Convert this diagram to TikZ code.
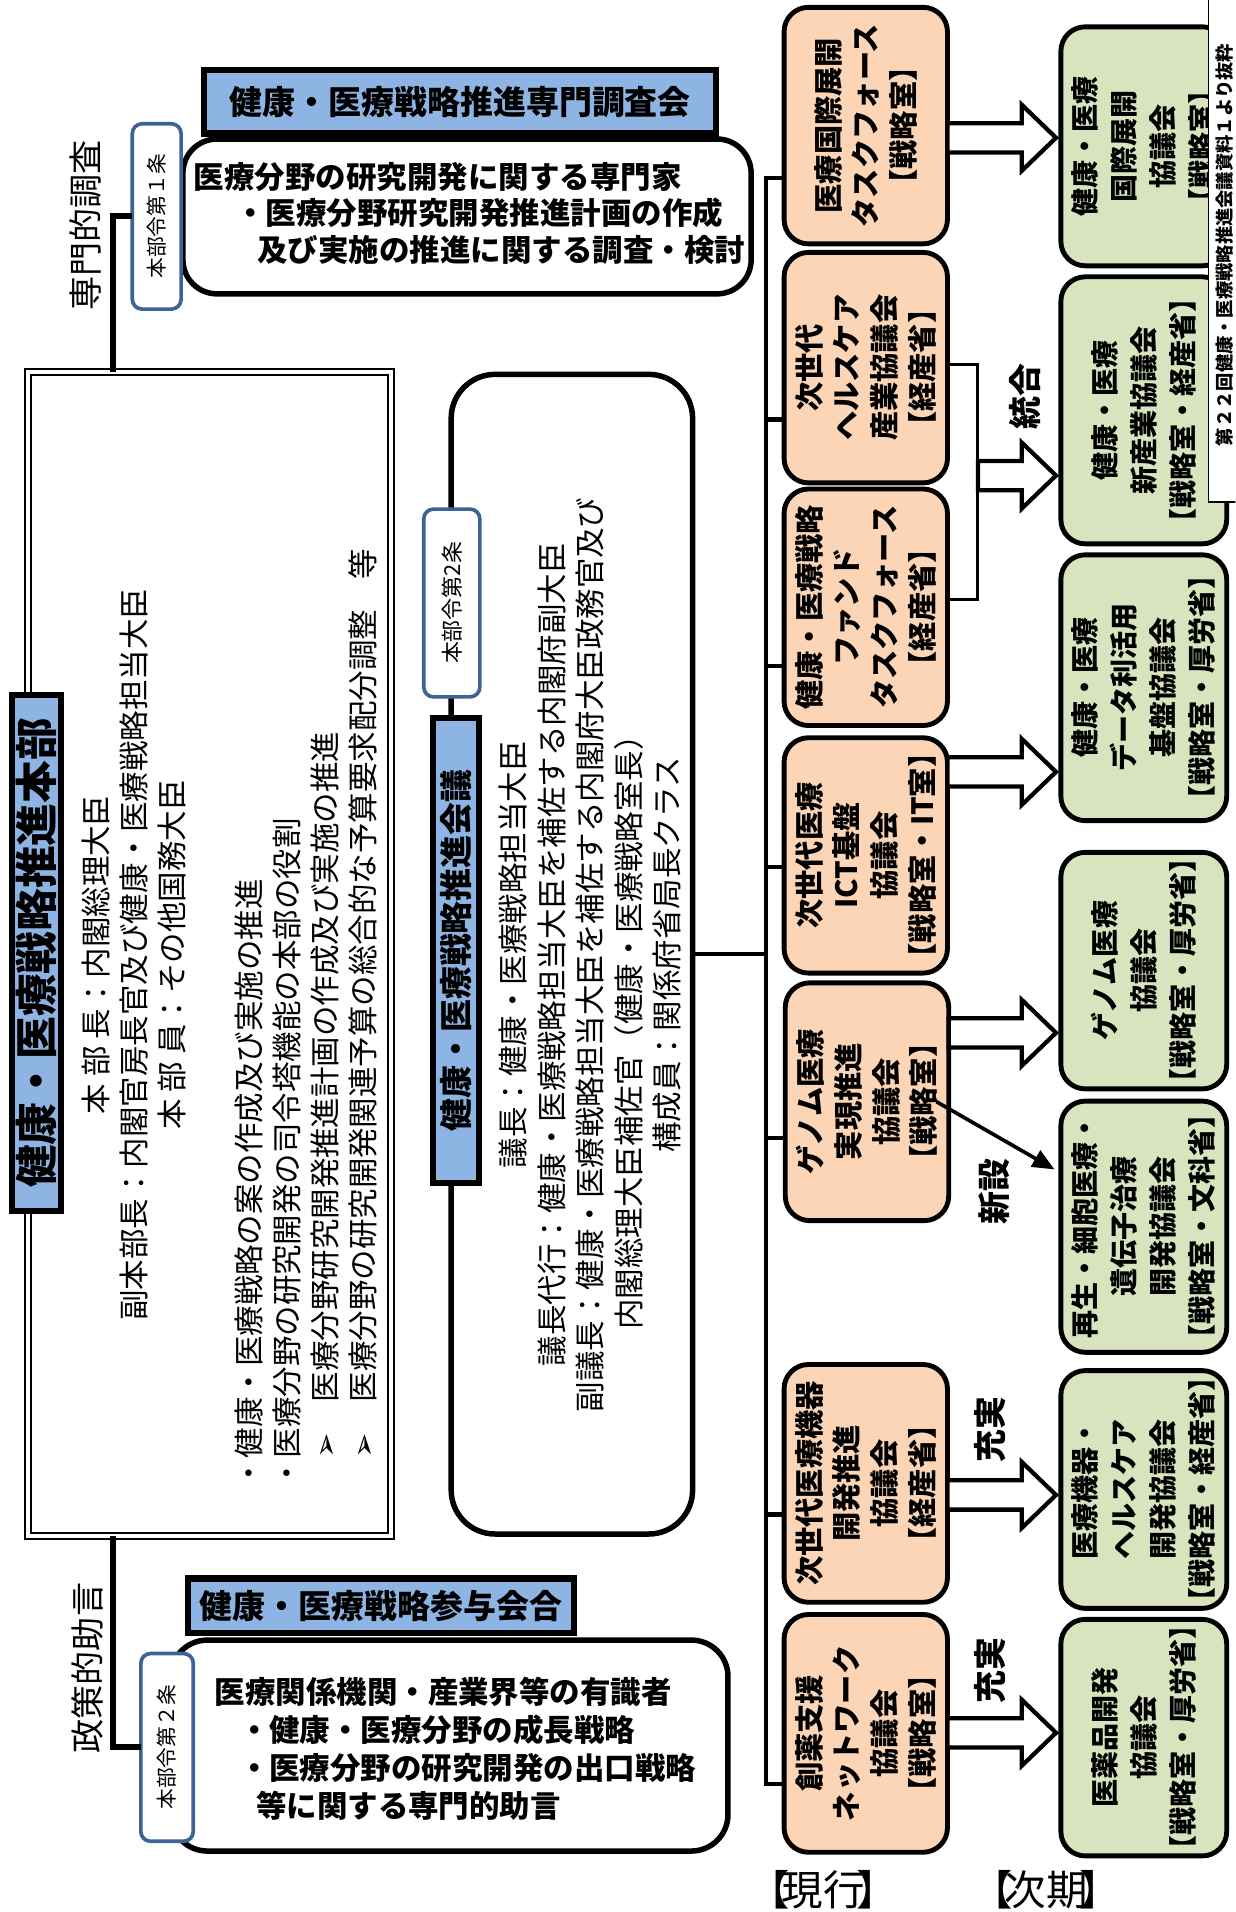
\documentclass[tikz,border=0pt]{standalone}
\usepackage{fontspec}
\setmainfont{Noto Sans CJK JP}
\newfontfamily\symfont{DejaVu Sans}
\usetikzlibrary{calc,arrows.meta}
\definecolor{titleblue}{RGB}{142,180,227}
\definecolor{oldorange}{RGB}{251,213,181}
\definecolor{newgreen}{RGB}{215,228,189}
\definecolor{tagblue}{RGB}{62,100,148}
\newcommand{\fsz}[2]{\fontsize{#1}{#2}\selectfont}
\newcommand{\wide}[1]{\makebox[0pt]{#1}}
\newcommand{\blockarr}[2]{%
  \draw[blockarrow] let \p1=#1, \p2=#2 in
    (\x1,\y1+12pt) -- (\x2-32pt,\y1+12pt) -- (\x2-32pt,\y1+27pt) -- (\x2-4pt,\y1)
    -- (\x2-32pt,\y1-27pt) -- (\x2-32pt,\y1-12pt) -- (\x1,\y1-12pt) -- cycle;}

\begin{document}
\begin{tikzpicture}[x=1pt, y=-1pt,
    every node/.style={inner sep=0pt, outer sep=0pt},
    vert/.style={rotate=90},
    titlebox/.style={draw, line width=5pt, fill=titleblue, font=\bfseries\fsz{27}{27}},
    panel/.style={draw, line width=4.5pt, fill=white},
    tag/.style={vert, draw=tagblue, line width=3pt, fill=white, rounded corners=8pt, font=\fsz{17}{17}},
    oldbox/.style={vert, draw, line width=4pt, fill=oldorange, rounded corners=20pt, align=center, minimum height=134, font=\bfseries\fsz{24}{31}},
    newbox/.style={vert, draw, line width=4pt, fill=newgreen, rounded corners=20pt, align=center, minimum height=136, font=\bfseries\fsz{23}{32}},
    txt/.style={font=\fsz{25}{31}},
    btxt/.style={font=\bfseries\fsz{25}{30}},
    word/.style={vert, font=\bfseries\fsz{27}{27}},
    phase/.style={font=\fsz{34}{34}},
    spine/.style={line width=3.5pt},
    conn/.style={line width=5pt},
    bracket/.style={line width=2.5pt},
    blockarrow/.style={draw, line width=3.5pt, fill=white, line join=miter},
    newarrow/.style={line width=3pt, -{Triangle[length=18pt,width=15pt]}, shorten >=6pt}]
  \path[use as bounding box, clip] (0,0) rectangle (1013,1568);

  % Nodes
  % headquarters
  \node[draw, double, line width=1.5pt, double distance=3.5pt, minimum width=297.5, minimum height=954.5] (HQ) at (172,782.5) {};
  \node[titlebox, vert, minimum width=423, minimum height=40, font=\bfseries\fsz{35}{35}] (HQT) at (30,781.5) {健康・医療戦略推進本部};
  \node[txt, vert, align=center] (HQA) at (110,783) {本 部 長：内閣総理大臣\\%
副本部長：内閣官房長官及び健康・医療戦略担当大臣\\%
本 部 員：その他国務大臣};
  \node[txt, vert, align=left, anchor=west] (HQB) at (251,1221) {・健康・医療戦略の案の作成及び実施の推進\\%
・医療分野の研究開発の司令塔機能の本部の役割\\%
\hspace*{1em}{\symfont ➢}\hspace{1em}医療分野研究開発推進計画の作成及び実施の推進\\%
\hspace*{1em}{\symfont ➢}\hspace{1em}医療分野の研究開発関連予算の総合的な予算要求配分調整　等};

  % council
  \node[panel, rounded corners=36pt, minimum width=198, minimum height=951] (KG) at (469,782.5) {};
  \node[titlebox, vert, minimum width=381, minimum height=38] (KGT) at (374,779.5) {健康・医療戦略推進会議};
  \node[tag, minimum width=154, minimum height=46, font=\fsz{18}{18}] (T3) at (370.5,494.5) {本部令第2条};
  \node[txt, vert, align=left, anchor=west, font=\fsz{25}{31.5}] (KGX) at (484,1158) {\hspace*{8em}議長：健康・医療戦略担当大臣\\%
\hspace*{1.5em}議長代行：健康・医療戦略担当大臣を補佐する内閣府副大臣\\%
副議長：健康・医療戦略担当大臣を補佐する内閣府大臣政務官及び\\%
\hspace*{2.7em}内閣総理大臣補佐官（健康・医療戦略室長）\\%
\hspace*{8.5em}構成員：関係府省局長クラス};

  % expert panel
  \node[panel, rounded corners=28pt, minimum width=466, minimum height=127] (SC) at (383,177.5) {};
  \node[titlebox, minimum width=420, minimum height=52] (SCT) at (377.5,83.5) {健康・医療戦略推進専門調査会};
  \node[btxt, align=left, anchor=west] (SCX) at (159,175) {医療分野の研究開発に関する専門家\\%
\hspace*{1.36em}・医療分野研究開発推進計画の作成\\%
\hspace*{2.08em}及び実施の推進に関する調査・検討};
  \node[tag, minimum width=152, minimum height=40] (T1) at (128.5,177.5) {本部令第１条};
  \node[vert, font=\fsz{28}{28}] (L1) at (70,185) {専門的調査};

  % advisory meeting
  \node[panel, rounded corners=30pt, minimum width=457, minimum height=173] (AM) at (368.5,1431.5) {};
  \node[titlebox, minimum width=316, minimum height=45] (AMT) at (312.5,1317) {健康・医療戦略参与会合};
  \node[btxt, align=left, anchor=west, font=\bfseries\fsz{25}{31.3}] (AMX) at (176,1434) {医療関係機関・産業界等の有識者\\%
\hspace*{0.8em}・健康・医療分野の成長戦略\\%
\hspace*{0.8em}・医療分野の研究開発の出口戦略\\%
\hspace*{1.36em}等に関する専門的助言};
  \node[tag, minimum width=154, minimum height=43] (T2) at (137,1433) {本部令第２条};
  \node[vert, font=\fsz{28}{28}] (L2) at (72,1368) {政策的助言};

  % current councils
  \node[oldbox, minimum width=194] (O1) at (710,103) {医療国際展開\\タスクフォース\\【戦略室】};
  \node[oldbox, minimum width=189] (O2) at (710,301.5) {次世代\\ヘルスケア\\産業協議会\\【経産省】};
  \node[oldbox, minimum width=194] (O3) at (710,498) {健康・医療戦略\\ファンド\\タスクフォース\\【経産省】};
  \node[oldbox, minimum width=193] (O4) at (710,701.5) {次世代医療\\ICT基盤\\協議会\\\wide{【戦略室・IT室】}};
  \node[oldbox, minimum width=195] (O5) at (711,903.5) {ゲノム医療\\実現推進\\協議会\\【戦略室】};
  \node[oldbox, minimum width=195] (O6) at (710,1216.5) {次世代医療機器\\開発推進\\協議会\\【経産省】};
  \node[oldbox, minimum width=195] (O7) at (710,1421.5) {創薬支援\\ネットワーク\\協議会\\【戦略室】};

  % next councils
  \node[newbox, minimum width=196] (G1) at (938,120) {健康・医療\\国際展開\\協議会\\【戦略室】};
  \node[newbox, minimum width=219] (G2) at (938,336.5) {健康・医療\\新産業協議会\\\wide{【戦略室・経産省】}};
  \node[newbox, minimum width=218] (G3) at (938,564) {健康・医療\\データ利活用\\基盤協議会\\\wide{【戦略室・厚労省】}};
  \node[newbox, minimum width=194] (G4) at (938,796) {ゲノム医療\\協議会\\\wide{【戦略室・厚労省】}};
  \node[newbox, minimum width=206] (G5) at (938,1006) {再生・細胞医療・\\遺伝子治療\\開発協議会\\\wide{【戦略室・文科省】}};
  \node[newbox, minimum width=195] (G6) at (938,1221.5) {医療機器・\\ヘルスケア\\開発協議会\\\wide{【戦略室・経産省】}};
  \node[newbox, minimum width=194] (G7) at (938,1425) {医薬品開発\\協議会\\\wide{【戦略室・厚労省】}};

  \node[word] (L3) at (841,325) {統合};
  \node[word] (L4) at (815,977) {新設};
  \node[word] (L5) at (812,1172) {充実};
  \node[word] (L6) at (812,1370) {充実};
  \node[phase] (L7) at (675,1550) {【\kern-0.2em 現行\kern-0.2em 】};
  \node[phase] (L8) at (858,1550) {【\kern-0.2em 次期\kern-0.2em 】};
  \node[vert, draw, line width=1.5pt, fill=white, minimum width=422, minimum height=26, font=\bfseries\fsz{15}{15}] (N) at (1004,201) {第２２回健康・医療戦略推進会議資料１より抜粋};
  \coordinate (TG) at (802,390);

  % Edges
  \draw[conn] (HQ.north -| 93,0) |- (T1.north);
  \draw[conn] (HQ.south -| 93,0) |- (T2.north);
  \draw[spine] (KG.east) -- (KG.east -| 628,0);
  \draw[spine] (O1.north |- 0,146) -| (628,1463) -- (O7.north |- 0,1463);
  \foreach \bx/\by in {O2/344,O3/546,O4/711,O5/933,O6/1242}
    \draw[spine] (628,\by) -- (\bx.north |- 0,\by);

  \blockarr{(O1.south |- 0,113)}{(G1.north)}
  \blockarr{(TG)}{(G2.north)}
  \blockarr{(O4.south |- 0,633)}{(G3.north)}
  \blockarr{(O5.south |- 0,847)}{(G4.north)}
  \blockarr{(O6.south |- 0,1226)}{(G6.north)}
  \blockarr{(O7.south |- 0,1421)}{(G7.north)}
  \draw[bracket] (O2.south |- 0,299) -| (TG |- 0,492) -- (O3.south |- 0,492);
  \draw[newarrow] ([xshift=57pt]O5.center) -- (G5.north |- 0,962);
\end{tikzpicture}
\end{document}
